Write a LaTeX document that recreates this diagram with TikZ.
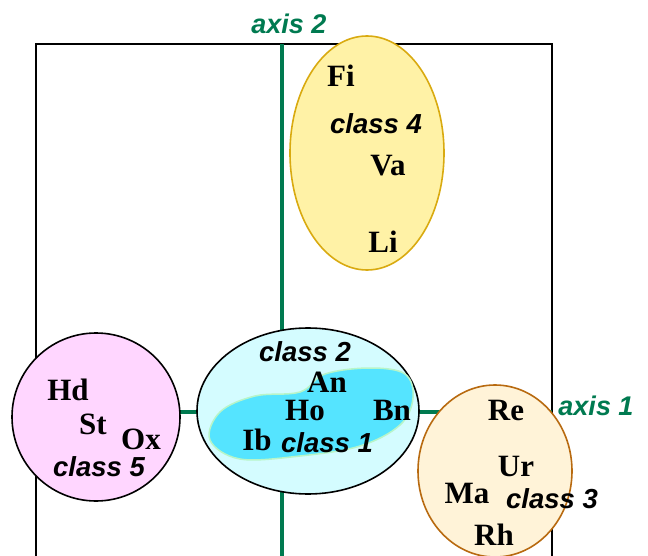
\documentclass[tikz,border=0pt]{standalone}
\usepackage{fontspec}
\usetikzlibrary{shapes.geometric}
\setmainfont{Liberation Serif}
\setsansfont{Liberation Sans}
\definecolor{axisgreen}{HTML}{007A50}
\definecolor{c4fill}{HTML}{FFF2A6}
\definecolor{c4line}{HTML}{D9AA10}
\definecolor{c2fill}{HTML}{D4FCFF}
\definecolor{c1fill}{HTML}{55E4FF}
\definecolor{c1edge}{HTML}{B8F5C8}
\definecolor{c5fill}{HTML}{FFD6FF}
\definecolor{c3fill}{HTML}{FFF3D8}
\definecolor{c3line}{HTML}{B86A10}
\begin{document}
\begin{tikzpicture}[x=1pt,y=-1pt,
  lab/.style={font=\fontsize{31}{31}\selectfont\bfseries, inner sep=0pt},
  cls/.style={font=\fontsize{27.5}{27.5}\selectfont\sffamily\bfseries\itshape, inner sep=0pt},
  axl/.style={font=\fontsize{27}{27}\selectfont\sffamily\bfseries\itshape, text=axisgreen, inner sep=0pt},
  axisline/.style={draw=axisgreen, line width=4pt},
  frame/.style={draw=black, line width=2pt}]
\useasboundingbox (0,0) rectangle (648,556);
% frame
\coordinate (fbl) at (36,560);
\coordinate (ftl) at (36,44);
\coordinate (ftr) at (552,44);
\coordinate (fbr) at (552,560);
\draw[frame] (fbl) -- (ftl) -- (ftr) -- (fbr);
% axes
\coordinate (a2t) at (282,44);
\coordinate (a2b) at (282,560);
\coordinate (a1l) at (36,412);
\coordinate (a1r) at (552,412);
\draw[axisline] (a2t) -- (a2b);
\draw[axisline] (a1l) -- (a1r);
\node[axl] (ax2) at (289,24) {axis 2};
\node[axl] (ax1) at (596,406) {axis 1};
% class 4
\node[draw=c4line, fill=c4fill, line width=1.6pt, ellipse, minimum width=154pt, minimum height=234pt, inner sep=0pt] (e4) at (367,153) {};
\node[lab] (Fi) at (341,76) {Fi};
\node[cls] (c4) at (376,124) {class 4};
\node[lab] (Va) at (388,166) {Va};
\node[lab] (Li) at (383,242) {Li};
% class 2 ellipse
\node[draw=black, fill=c2fill, line width=1.6pt, ellipse, minimum width=222pt, minimum height=166pt, inner sep=0pt] (e2) at (308,411) {};
\path[draw=c1edge, line width=1.5pt, fill=c1fill] plot[smooth cycle, tension=0.6] coordinates {
  (210,440) (220,412) (255,396) (300,392) (325,374) (370,368) (405,374) (413,398) (400,425) (360,446) (300,456) (240,459)};
\node[cls] (c2) at (305,352) {class 2};
\node[lab] (An) at (327,382) {An};
\node[lab] (Ho) at (305,411) {Ho};
\node[lab] (Bn) at (392,410) {Bn};
\node[lab] (Ib) at (257,440) {Ib};
\node[cls] (c1) at (327,443) {class 1};
% class 5
\node[draw=black, fill=c5fill, line width=1.6pt, circle, minimum size=168pt, inner sep=0pt] (e5) at (96,417) {};
\node[lab] (Hd) at (68,390) {Hd};
\node[lab] (St) at (93,424) {St};
\node[lab] (Ox) at (141,439) {Ox};
\node[cls] (c5) at (99,467) {class 5};
% class 3
\node[draw=c3line, fill=c3fill, line width=1.6pt, ellipse, minimum width=154pt, minimum height=172pt, inner sep=0pt] (e3) at (495,471) {};
\node[lab] (Re) at (506,410) {Re};
\node[lab] (Ur) at (516,466) {Ur};
\node[lab] (Ma) at (467,493) {Ma};
\node[cls] (c3) at (552,499) {class 3};
\node[lab] (Rh) at (494,535) {Rh};
\end{tikzpicture}
\end{document}
